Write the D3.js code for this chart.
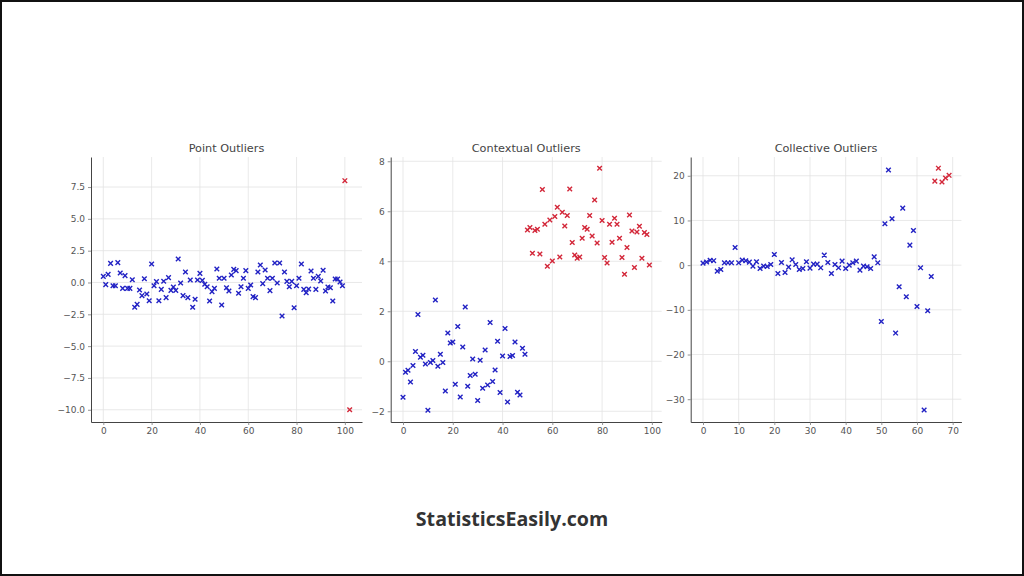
<!DOCTYPE html>
<html>
<head>
<meta charset="utf-8">
<script src="https://cdn.jsdelivr.net/npm/d3@7"></script>
<style>
  html, body { margin: 0; padding: 0; background: #fff; }
  svg { display: block; }
</style>
</head>
<body>
<svg id="chart" width="1024" height="576"></svg>
<script>
// --- data ---
// point outliers: 100 normal points (index 0..99) plus two outliers
const pointValues = [
  0.48, -0.17, 0.64, 1.5, -0.25, -0.25, 1.56, 0.75, -0.46, 0.54,
  -0.46, -0.46, 0.22, -1.95, -1.72, -0.59, -1.03, 0.3, -0.9, -1.43,
  1.45, -0.25, 0.07, -1.43, -0.54, 0.1, -1.19, 0.38, -0.62, -0.35,
  -0.62, 1.85, -0.04, -1.03, 0.82, -1.19, 0.2, -1.95, -1.32, 0.2,
  0.72, 0.17, -0.14, -0.33, -1.45, -0.72, -0.46, 1.06, 0.33, -1.77,
  0.33, -0.41, -0.67, 0.59, 1.03, 0.93, -0.85, -0.33, 0.33, 0.93,
  -0.46, -0.2, -1.11, -1.19, 0.82, 1.37, -0.09, 0.98, 0.33, -0.64,
  0.33, 1.53, -0.04, 1.53, -2.63, 0.82, 0.09, -0.33, 0.09, -1.98,
  -0.25, 0.33, 1.45, -0.54, -0.8, -0.51, 0.9, 0.33, -0.54, 0.48,
  0.12, 0.96, -0.67, -0.35, -0.41, -1.45, 0.28, 0.28, 0.04, -0.25
];
const pointOutX = [100, 102];
const pointOutY = [8.0, -10.0];

// contextual outliers: first 50 normal, last 50 shifted
const contextValues = [
  -1.44, -0.44, -0.36, -0.83, -0.17, 0.39, 1.87, 0.16, 0.24, -0.11,
  -1.96, -0.05, 0.03, 2.45, -0.2, 0.28, -0.05, -1.19, 1.13, 0.73,
  0.77, -0.92, 1.39, -1.43, 0.57, 2.17, -1.0, -0.57, 0.09, -0.52,
  -1.57, 0.04, -1.08, 0.45, -0.95, 1.55, -0.81, -0.35, 0.8, -1.25,
  0.21, 1.31, -1.63, 0.19, 0.23, 0.77, -1.24, -1.35, 0.52, 0.28,
  5.25, 5.35, 4.32, 5.23, 5.28, 4.29, 6.87, 5.48, 3.8, 5.65,
  4.01, 5.79, 6.16, 4.17, 5.96, 5.41, 5.83, 6.89, 4.75, 4.25,
  4.12, 4.17, 4.92, 5.35, 5.28, 5.83, 5.01, 6.45, 4.73, 7.72,
  5.63, 4.15, 3.93, 5.48, 4.76, 5.72, 5.48, 4.92, 4.15, 3.48,
  4.55, 5.85, 5.21, 3.75, 5.17, 5.4, 4.12, 5.15, 5.07, 3.85
];
const contextSplit = 50;

// collective outliers: 70 points, the last 5 form the collective group
const collectiveValues = [
  0.45, 0.7, 1.1, 1.0, -1.34, -0.97, 0.52, 0.52, 0.52, 3.95,
  0.52, 1.12, 0.97, 0.67, -0.22, 0.75, -0.75, -0.22, -0.3, 0.15,
  2.39, -1.86, 0.6, -1.64, -0.45, 1.19, 0.15, -0.97, -0.75, 0.75,
  -0.67, 0.22, 0.22, -0.6, 2.24, 0.6, -1.86, 0.15, -0.6, 0.9,
  -0.75, 0.0, 0.52, 0.9, -1.12, -0.22, -0.37, -0.75, 1.86, 0.52,
  -12.6, 9.25, 21.3, 10.37, -15.2, -4.85, 12.75, -7.08, 4.47, 7.76,
  -9.25, -0.6, -32.4, -10.2, -2.54, 18.8, 21.7, 18.6, 19.5, 20.1
];
const collectiveSplit = 65;

const titles = ["Point Outliers", "Contextual Outliers", "Collective Outliers"];
const xTicks = [[0, 20, 40, 60, 80, 100], [0, 20, 40, 60, 80, 100], [0, 10, 20, 30, 40, 50, 60, 70]];
const yTicks = [[-10, -7.5, -5, -2.5, 0, 2.5, 5, 7.5], [-2, 0, 2, 4, 6, 8], [-30, -20, -10, 0, 10, 20]];

// --- build point lists for each panel ---
const blue = "#2222c4", red = "#d3283a";
const panelPoints = [
  pointValues.map((v, i) => ({ x: i, y: v, c: blue }))
    .concat(pointOutX.map((x, i) => ({ x: x, y: pointOutY[i], c: red }))),
  contextValues.map((v, i) => ({ x: i, y: v, c: i < contextSplit ? blue : red })),
  collectiveValues.map((v, i) => ({ x: i, y: v, c: i < collectiveSplit ? blue : red }))
];

// panel frames (pixels) and axis limits (matplotlib style 5% margins)
const panels = [
  { left: 91, right: 362, xDom: [-5.1, 107.1], yDom: [-10.96, 9.86], fmt: d3.format(".1f") },
  { left: 390.7, right: 661.7, xDom: [-4.95, 103.95], yDom: [-2.43, 8.17], fmt: d3.format("d") },
  { left: 690.7, right: 961.4, xDom: [-3.45, 72.45], yDom: [-35.1, 24.2], fmt: d3.format("d") }
];
const plotTop = 157, plotBottom = 422;

const svg = d3.select("#chart");

// outer border
svg.append("rect")
  .attr("x", 1).attr("y", 1).attr("width", 1022).attr("height", 574)
  .attr("fill", "#fff").attr("stroke", "#111").attr("stroke-width", 2);

const xMark = (r) => `M${-r},${-r}L${r},${r}M${-r},${r}L${r},${-r}`;

panels.forEach((p, k) => {
  const x = d3.scaleLinear().domain(p.xDom).range([p.left, p.right]);
  const y = d3.scaleLinear().domain(p.yDom).range([plotBottom, plotTop]);
  const g = svg.append("g");

  // grid
  g.append("g").selectAll("line").data(xTicks[k]).join("line")
    .attr("x1", d => x(d)).attr("x2", d => x(d))
    .attr("y1", plotTop).attr("y2", plotBottom)
    .attr("stroke", "#e3e3e3").attr("stroke-width", 0.8);
  g.append("g").selectAll("line").data(yTicks[k]).join("line")
    .attr("x1", p.left).attr("x2", p.right)
    .attr("y1", d => y(d)).attr("y2", d => y(d))
    .attr("stroke", "#e3e3e3").attr("stroke-width", 0.8);

  // axes
  const ax = g.append("g").attr("transform", `translate(0,${plotBottom})`)
    .call(d3.axisBottom(x).tickValues(xTicks[k]).tickFormat(d3.format("d"))
      .tickSize(3).tickSizeOuter(0).tickPadding(2.5));
  const ay = g.append("g").attr("transform", `translate(${p.left},0)`)
    .call(d3.axisLeft(y).tickValues(yTicks[k]).tickFormat(p.fmt)
      .tickSize(3).tickSizeOuter(0).tickPadding(3));
  [ax, ay].forEach(a => {
    a.select(".domain").attr("stroke", "#444").attr("stroke-width", 1);
    a.selectAll(".tick line").attr("stroke", "#777").attr("stroke-width", 0.8);
    a.selectAll(".tick text")
      .attr("fill", "#555")
      .attr("font-family", "DejaVu Sans")
      .attr("font-size", 9);
  });

  // markers
  g.append("g").selectAll("path").data(panelPoints[k]).join("path")
    .attr("transform", d => `translate(${x(d.x)},${y(d.y)})`)
    .attr("d", xMark(2.3))
    .attr("fill", "none")
    .attr("stroke", d => d.c)
    .attr("stroke-width", 1.4);

  // title
  g.append("text")
    .attr("x", (p.left + p.right) / 2).attr("y", 152)
    .attr("text-anchor", "middle")
    .attr("font-family", "DejaVu Sans")
    .attr("font-size", 11.25)
    .attr("fill", "#444")
    .text(titles[k]);
});

// watermark caption
svg.append("text")
  .attr("x", 512).attr("y", 526)
  .attr("text-anchor", "middle")
  .attr("font-family", "Open Sans")
  .attr("font-weight", "bold")
  .attr("font-size", 19.6)
  .attr("fill", "#333")
  .text("StatisticsEasily.com");
</script>
</body>
</html>
